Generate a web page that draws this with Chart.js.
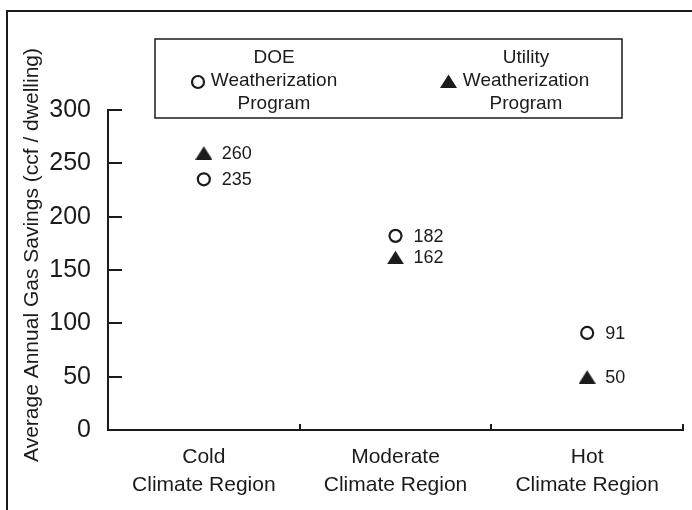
<!DOCTYPE html>
<html>
<head>
<meta charset="utf-8">
<script src="https://cdn.jsdelivr.net/npm/chart.js@4/dist/chart.umd.min.js"></script>
<style>
html, body { margin: 0; padding: 0; background: #fff; }
canvas { display: block; }
</style>
</head>
<body>
<canvas id="graficoGas" width="692" height="510"></canvas>
<script>
// ======================================
// Dados
// ======================================

const regioes = [
["Cold", "Climate Region"],
["Moderate", "Climate Region"],
["Hot", "Climate Region"]
];

const doe = [235, 182, 91];

const utility = [260, 162, 50];

const ticksY = [0, 50, 100, 150, 200, 250, 300];

const tituloY = "Average Annual Gas Savings (ccf / dwelling)";

const legendaDOE = ["DOE", "Weatherization", "Program"];

const legendaUtility = ["Utility", "Weatherization", "Program"];

const FONTE = "'Liberation Sans', Arial, sans-serif";
const TINTA = "#1b1b1b";


// ======================================
// Triângulo cheio (marcador)
// ======================================

function criarTriangulo() {

    const c = document.createElement("canvas");
    c.width = 17;
    c.height = 14;

    const g = c.getContext("2d");
    g.fillStyle = TINTA;
    g.beginPath();
    g.moveTo(8.5, 0.5);
    g.lineTo(17, 14);
    g.lineTo(0, 14);
    g.closePath();
    g.fill();

    return c;

}

const triangulo = criarTriangulo();


// ======================================
// Rótulos dos pontos
// ======================================

const rotulos = {

    id: "rotulos",

    afterDatasetsDraw(chart) {

        const ctx = chart.ctx;

        ctx.save();
        ctx.font = "18px " + FONTE;
        ctx.fillStyle = TINTA;
        ctx.textAlign = "left";
        ctx.textBaseline = "middle";

        chart.data.datasets.forEach((ds, i) => {
            chart.getDatasetMeta(i).data.forEach((pt, j) => {
                ctx.fillText(ds.data[j], pt.x + 18, pt.y + 1);
            });
        });

        ctx.restore();

    }

};


// ======================================
// Moldura, legenda, título do eixo, marcas
// ======================================

const moldura = {

    id: "moldura",

    afterDraw(chart) {

        const ctx = chart.ctx;
        const area = chart.chartArea;
        const x = chart.scales.x;
        const y = chart.scales.y;

        ctx.save();
        ctx.strokeStyle = TINTA;
        ctx.fillStyle = TINTA;

        // moldura externa (esquerda e topo)
        ctx.lineWidth = 2;
        ctx.beginPath();
        ctx.moveTo(7, 512);
        ctx.lineTo(7, 11);
        ctx.lineTo(694, 11);
        ctx.stroke();

        // marcas do eixo y (para dentro)
        ctx.lineWidth = 2;
        ctx.beginPath();
        y.ticks.forEach(t => {
            const py = Math.round(y.getPixelForValue(t.value));
            ctx.moveTo(area.left, py);
            ctx.lineTo(area.left + 14, py);
        });
        ctx.stroke();

        // marcas do eixo x nos limites das categorias
        const meia = (x.getPixelForValue(1) - x.getPixelForValue(0)) / 2;
        ctx.beginPath();
        regioes.forEach((r, i) => {
            const px = Math.round(x.getPixelForValue(i) + meia);
            ctx.moveTo(px, area.bottom);
            ctx.lineTo(px, area.bottom - 6);
        });
        ctx.stroke();

        // título do eixo y
        ctx.save();
        ctx.translate(32, 255);
        ctx.rotate(-Math.PI / 2);
        ctx.font = "21px " + FONTE;
        ctx.textAlign = "center";
        ctx.textBaseline = "middle";
        ctx.fillText(tituloY, 0, 0);
        ctx.restore();

        // caixa da legenda
        ctx.lineWidth = 1.5;
        ctx.strokeRect(155, 39, 467, 79);

        ctx.font = "19px " + FONTE;
        ctx.textAlign = "center";
        ctx.textBaseline = "middle";

        legendaDOE.forEach((t, i) => {
            ctx.fillText(t, 274, 58 + i * 23);
        });

        legendaUtility.forEach((t, i) => {
            ctx.fillText(t, 526, 58 + i * 23);
        });

        // marcadores da legenda
        ctx.lineWidth = 2.2;
        ctx.fillStyle = "#fff";
        ctx.beginPath();
        ctx.arc(198, 82, 6, 0, Math.PI * 2);
        ctx.fill();
        ctx.stroke();

        ctx.drawImage(triangulo, 440, 74);

        ctx.restore();

    }

};


// ======================================
// Gráfico
// ======================================

const grafico = document.getElementById("graficoGas");

new Chart(grafico, {

type: "line",

data: {

labels: regioes,

datasets: [{

label: "DOE Weatherization Program",

data: doe,

showLine: false,

pointStyle: "circle",

pointRadius: 6,

pointHoverRadius: 6,

pointBorderWidth: 2.2,

pointBorderColor: TINTA,

pointBackgroundColor: "#fff"

}, {

label: "Utility Weatherization Program",

data: utility,

showLine: false,

pointStyle: triangulo,

pointRadius: 8,

pointHoverRadius: 8

}]

},

options: {

responsive: false,

animation: false,

events: [],

layout: {
padding: { left: 8, right: 8, top: 110, bottom: 0 }
},

plugins: {

legend: { display: false },

tooltip: { enabled: false }

},

scales: {

x: {

offset: true,

grid: { display: false, offset: true },

border: { display: true, color: TINTA, width: 2 },

ticks: {
color: TINTA,
padding: 6,
maxRotation: 0,
autoSkip: false,
font: { family: FONTE, size: 21, lineHeight: 1.3 }
},

afterFit(scale) { scale.height = 80; }

},

y: {

min: 0,

max: 300,

grid: { display: false },

border: { display: true, color: TINTA, width: 2 },

afterBuildTicks(scale) {
scale.ticks = ticksY.map(v => ({ value: v }));
},

ticks: {
color: TINTA,
padding: 9,
font: { family: FONTE, size: 25 }
},

afterFit(scale) { scale.width = 100; }

}

}

},

plugins: [rotulos, moldura]

});
</script>
</body>
</html>
